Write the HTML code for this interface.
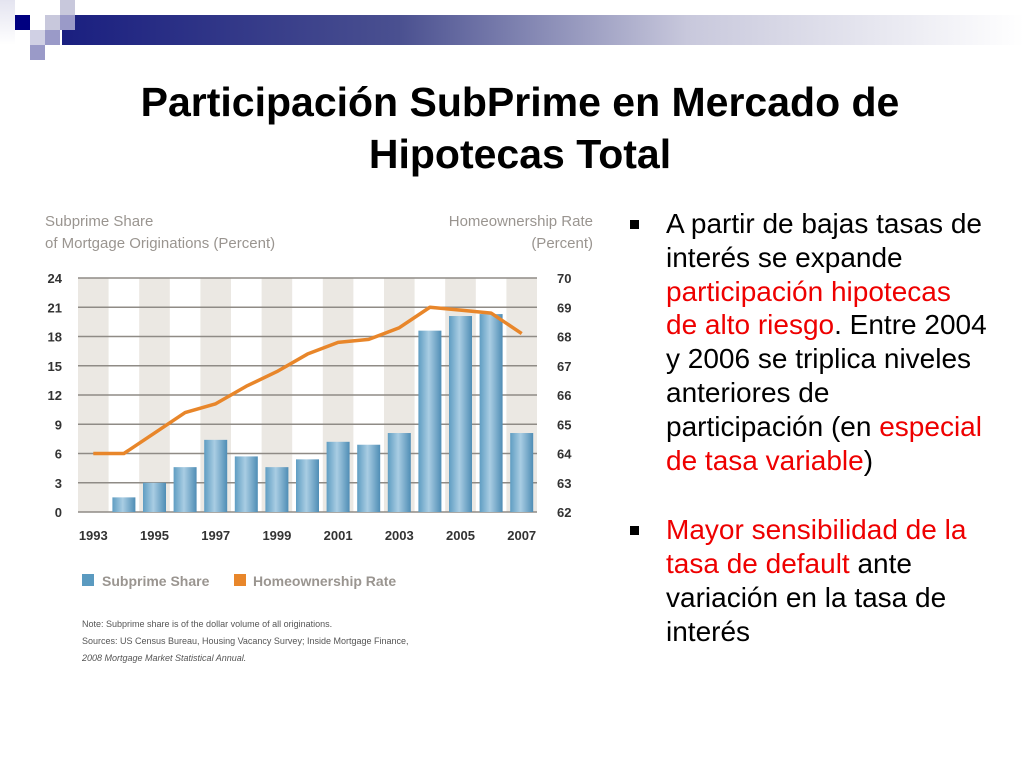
<!DOCTYPE html>
<html><head><meta charset="utf-8"><style>
body{margin:0;width:1024px;height:768px;background:#fff;position:relative;overflow:hidden;font-family:"Liberation Sans",sans-serif}
.sq{position:absolute;width:15px;height:15px}
#title{position:absolute;left:0;width:1040px;top:76px;text-align:center;font-weight:bold;font-size:41px;line-height:52px;color:#000}
#bul{position:absolute;left:628px;top:207px;width:390px;font-size:28px;line-height:33.8px;color:#000;white-space:nowrap}
.b{position:relative;padding-left:38px}
.b:before{content:"";position:absolute;left:2px;top:13px;width:9px;height:9px;background:#000}
.r{color:#e00}
</style></head><body>
<div style="position:absolute;left:62px;top:15px;width:962px;height:30px;background:linear-gradient(90deg,#1a1f80 0%,#4a5090 35%,#c8c8dc 65%,#fff 100%)"></div>
<div class="sq" style="left:0;top:0;width:15px;height:45px;background:linear-gradient(#e4e4f0,#fff)"></div>
<div class="sq" style="left:15px;top:15px;background:#000080"></div>
<div class="sq" style="left:45px;top:15px;background:#c8c8dc"></div>
<div class="sq" style="left:60px;top:0;background:#c8c8dc"></div>
<div class="sq" style="left:60px;top:15px;background:#9a9ac8"></div>
<div class="sq" style="left:30px;top:30px;background:#d0d0e4"></div>
<div class="sq" style="left:45px;top:30px;background:#9a9ac8"></div>
<div class="sq" style="left:30px;top:45px;background:#9a9ac8"></div>
<div id="title">Participación SubPrime en Mercado de<br>Hipotecas Total</div>
<svg id="chart" style="position:absolute;left:0;top:0" width="620" height="700" font-family="Liberation Sans, sans-serif"></svg>
<div id="bul">
<div class="b">A partir de bajas tasas de<br>interés se expande<br><span class="r">participación hipotecas<br>de alto riesgo</span>. Entre 2004<br>y 2006 se triplica niveles<br>anteriores de<br>participación (en <span class="r">especial<br>de tasa variable</span>)</div>
<div class="b" style="margin-top:36px"><span class="r">Mayor sensibilidad de la<br>tasa de default</span> ante<br>variación en la tasa de<br>interés</div>
</div>
<script>
const years=[1993,1994,1995,1996,1997,1998,1999,2000,2001,2002,2003,2004,2005,2006,2007];
const subprime=[0,1.5,3.0,4.6,7.4,5.7,4.6,5.4,7.2,6.9,8.1,18.6,20.1,20.3,8.1];
const homeown=[64.0,64.0,64.7,65.4,65.7,66.3,66.8,67.4,67.8,67.9,68.3,69.0,68.9,68.8,68.1];
const leftTicks=[0,3,6,9,12,15,18,21,24];
const rightTicks=[62,63,64,65,66,67,68,69,70];
const xLabels=[1993,1995,1997,1999,2001,2003,2005,2007];
const svg=document.getElementById('chart');const NS='http://www.w3.org/2000/svg';
const X0=78,X1=537,Y0=512,Y1=278;
const step=(X1-X0)/years.length;
const xc=i=>X0+step*(i+0.5);
const yl=v=>Y0-(v-0)/(24-0)*(Y0-Y1);
const yr=v=>Y0-(v-62)/(70-62)*(Y0-Y1);
function mk(t,a,txt){const e=document.createElementNS(NS,t);for(const k in a)e.setAttribute(k,a[k]);if(txt!=null)e.textContent=txt;svg.appendChild(e);return e;}
const defs=mk('defs',{});defs.innerHTML='<linearGradient id="bg" x1="0" x2="1"><stop offset="0" stop-color="#5f9dc2"/><stop offset="0.45" stop-color="#a9cde3"/><stop offset="1" stop-color="#4f8db5"/></linearGradient>';
years.forEach((y,i)=>{if(i%2==0){const e=mk('rect',{x:X0+step*i,y:Y1,width:step,height:Y0-Y1,fill:'#ebe8e3'});

}});
leftTicks.forEach((t,i)=>{const e=mk('line',{x1:X0,x2:X1,y1:yl(t),y2:yl(t),stroke:'#8f8b86','stroke-width':1.5});


const l=mk('text',{x:62,y:yl(t)+5,'text-anchor':'end','font-size':13,'font-weight':'bold',fill:'#333'},t);


const r=mk('text',{x:557,y:yr(rightTicks[i])+5,'font-size':13,'font-weight':'bold',fill:'#333'},rightTicks[i]);

});
years.forEach((y,i)=>{if(subprime[i]>0){const b=mk('rect',{x:xc(i)-11.5,y:yl(subprime[i]),width:23,height:Y0-yl(subprime[i]),fill:'url(#bg)'});

}});
const ln=mk('polyline',{points:homeown.map((v,i)=>xc(i)+','+yr(v)).join(' '),fill:'none',stroke:'#e8862a','stroke-width':3.5,'stroke-linejoin':'round'});


xLabels.forEach(y=>{const i=years.indexOf(y);const t=mk('text',{x:xc(i),y:540,'text-anchor':'middle','font-size':13,'font-weight':'bold',fill:'#333'},y);

});
function txt(x,y,s,a,name,sz,col,extra){const t=mk('text',Object.assign({x:x,y:y,'font-size':sz,fill:col,'text-anchor':a},extra||{}),s);

return t;}
txt(45,226,'Subprime Share','start','left-axis-title',15,'#9a9590');
txt(45,248,'of Mortgage Originations (Percent)','start','left-axis-title',15,'#9a9590');
txt(593,226,'Homeownership Rate','end','right-axis-title',15,'#9a9590');
txt(593,248,'(Percent)','end','right-axis-title',15,'#9a9590');
const s1=mk('rect',{x:82,y:574,width:12,height:12,fill:'#5a9ac0'});


txt(102,586,'Subprime Share','start','legend-entry-subprime',14,'#9a9590',{'font-weight':'bold'});
const s2=mk('rect',{x:234,y:574,width:12,height:12,fill:'#e8862a'});


txt(253,586,'Homeownership Rate','start','legend-entry-homeownership',14,'#9a9590',{'font-weight':'bold'});
txt(82,627,'Note: Subprime share is of the dollar volume of all originations.','start','chart-note',9,'#555');
txt(82,644,'Sources: US Census Bureau, Housing Vacancy Survey; Inside Mortgage Finance,','start','chart-sources',9,'#555');
txt(82,661,'2008 Mortgage Market Statistical Annual.','start','chart-sources',9,'#555',{'font-style':'italic'});
</script>
</body></html>
